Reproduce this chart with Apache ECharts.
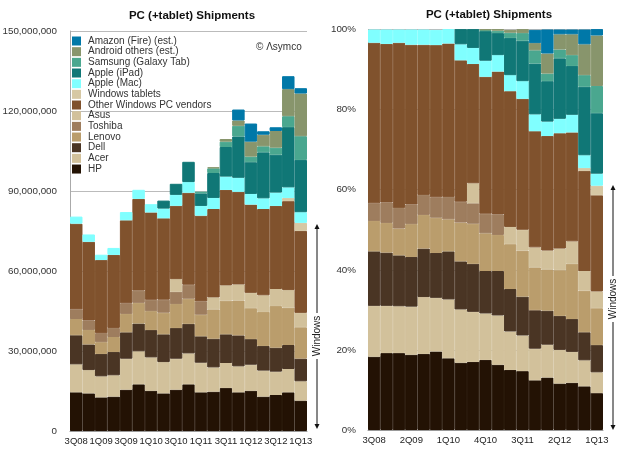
<!DOCTYPE html>
<html>
<head>
<meta charset="utf-8">
<title>PC (+tablet) Shipments</title>
<style>
	html, body { margin: 0; padding: 0; background: #fff; }
	#chart { width: 620px; height: 453px; }
</style>
<script src="https://cdn.jsdelivr.net/npm/echarts@6/dist/echarts.min.js"></script>
</head>
<body>
<div id="chart"></div>
<script>
var quarters = ['3Q08','4Q08','1Q09','2Q09','3Q09','4Q09','1Q10','2Q10','3Q10','4Q10','1Q11','2Q11','3Q11','4Q11','1Q12','2Q12','3Q12','4Q12','1Q13'];
var unitTicks = [0, 30000000, 60000000, 90000000, 120000000, 150000000];
var vendors = ['HP','Acer','Dell','Lenovo','Toshiba','Asus','Other Windows PC vendors','Windows tablets','Apple (Mac)','Apple (iPad)','Samsung (Galaxy Tab)','Android others (est.)','Amazon (Fire) (est.)'];
var vendorColors = ['#231204','#d2c19b','#4a3524','#ba9d6c','#9e7d5e','#d2c19b','#80522d','#d6c8a4','#80ffff','#107776','#4aa78f','#88956c','#0078a8'];

/* units, millions */
var unitsHP = [14.5,14.1,12.6,12.9,15.5,17.5,15.1,14.1,15.5,17.5,14.5,14.75,16.1,14.5,15.1,12.9,13.5,14.5,11.4];
var unitsAcer = [10.5,8.75,7.9,8,11.6,12.4,12.5,11.75,11.6,11.6,11.1,9.1,9.4,9.75,9.75,9.75,8.75,8.75,7.25];
var unitsDell = [10.9,9.6,8.4,8.75,9.9,10.4,10.25,10.4,11.5,11.1,9.9,10.75,10.75,11.6,9.6,9.25,9,9,8.5];
var unitsLenovo = [6.1,5.4,4.4,5.6,6.9,7.75,7.1,8.1,9,9.4,8.1,11,12.6,13.1,11.6,12.75,15.6,14,11.75];
var unitsToshiba = [3.6,3.6,3.4,3.4,4,4.6,4.25,4.9,4.6,5.25,5,0,0,0,0,0,0,0,0];
var unitsAsus = [0,0,0,0,0,0,0,0,4.75,0,0,4.5,5.75,6,5.75,6.25,6.4,6.6,5.4];
var unitsOther = [32.15,29.5,27.4,27.4,31.1,34.4,32.75,30.5,27.5,34.5,32.15,33.15,35.8,34.75,33.1,32.35,31.15,33.35,30.75];
var unitsWinTablets = [0,0,0,0,0,0,0,0,0,0,0,0,0,0,0,0,0,1.15,3];
var unitsMac = [2.65,2.75,2,2.6,3.1,3.4,3.1,3.65,4.1,4,3.65,4.15,5,5.25,4,4,5,4,4];
var unitsIPad = [0,0,0,0,0,0,0,3,4.15,7.6,4.7,9.35,11.1,15.5,11.9,17.25,14.2,22.6,19.6];
var unitsSamsung = [0,0,0,0,0,0,0,0,0,0,0.65,1.75,2,4,2.1,2.25,2.65,4.1,8.9];
var unitsAndroid = [0,0,0,0,0,0,0,0,0,0,0,0.4,1,2,5.6,4.35,6.25,10.15,16];
var unitsAmazon = [0,0,0,0,0,0,0,0,0,0,0,0,0,4.1,6.8,1.3,1.4,4.85,2];

/* share, percent */
var shareHP = [18.3,19.2,19.2,18.8,19,19.6,17.9,16.8,17,17.5,16.3,15,14.7,12.4,13.1,11.6,11.8,10.9,9.2];
var shareAcer = [12.7,11.8,11.7,12,14.2,13.4,14.7,13.3,12.5,11.6,12.3,9.6,8.9,7.9,8.2,8.4,7.7,6.5,5.2];
var shareDell = [13.6,13.3,12.7,12.4,12.1,11.2,12,12,12,10.6,11.1,10.6,9.7,9.6,8.5,8.5,8.2,7,6.8];
var shareLenovo = [7.6,7.4,6.7,8.2,8.4,8.8,8,9.7,10,9.4,9,11.2,11.5,10.7,10.3,11.4,13.8,10.4,9.2];
var shareToshiba = [4.4,5.1,5.1,4.9,5,5.1,5.6,5.2,5.1,4.9,5.1,0,0,0,0,0,0,0,0];
var shareAsus = [0,0,0,0,0,0,0,0,5,0,0,4.3,5.2,5,4.7,5.4,5.6,4.9,4.2];
var shareOther = [40.1,39.6,41.3,39.9,37.5,38,38.3,35.3,29.8,34.2,35.7,33.9,32.7,29,28.6,28.8,27.2,25,24];
var shareWinTablets = [0,0,0,0,0,0,0,0,0,0,0,0,0,0,0,0,0,0.7,2.4];
var shareMac = [3.3,3.6,3.3,3.8,3.8,3.8,3.6,4,4,4,4.1,4,4.4,4.2,3.6,3.6,4.4,3.2,3];
var shareIPad = [0,0,0,0,0,0,0,3.8,4.7,7.4,5.5,9.3,10.1,12.7,10.1,15.1,12.2,17.1,15.1];
var shareSamsung = [0,0,0,0,0,0,0,0,0,0.25,0.6,1.3,1.9,3.3,1.9,2.2,2.7,2.9,6.8];
var shareAndroid = [0,0,0,0,0,0,0,0,0,0.2,0.4,0.7,1,1.8,5,3.8,5.2,7.7,12.6];
var shareAmazon = [0,0,0,0,0,0,0,0,0,0,0,0,0,3.3,6,1.2,1.2,3.7,1.6];

var unitRows = [unitsHP,unitsAcer,unitsDell,unitsLenovo,unitsToshiba,unitsAsus,unitsOther,unitsWinTablets,unitsMac,unitsIPad,unitsSamsung,unitsAndroid,unitsAmazon];
var shareRows = [shareHP,shareAcer,shareDell,shareLenovo,shareToshiba,shareAsus,shareOther,shareWinTablets,shareMac,shareIPad,shareSamsung,shareAndroid,shareAmazon];

var FONT = '"Liberation Sans", Arial, sans-serif';
var series = [];

function addBars(rows, axisIndex, stack, scale){
	for(var i=0;i<rows.length;i++){
		series.push({
			name: vendors[i],
			type: 'bar',
			stack: stack,
			xAxisIndex: axisIndex,
			yAxisIndex: axisIndex,
			barCategoryGap: '0%',
			barGap: '0%',
			silent: true,
			// border of the same colour closes the seams between neighbouring bars
			itemStyle: { color: vendorColors[i], borderColor: vendorColors[i], borderWidth: 1 },
			data: rows[i].map(function(v){ return v ? v*scale : '-'; })
		});
	}
}
addBars(unitRows, 0, 'units', 1000000);
addBars(shareRows, 1, 'share', 1);

function xAxis(gridIndex, every){
	return {
		type: 'category',
		gridIndex: gridIndex,
		data: quarters,
		axisTick: { show: false },
		axisLine: { lineStyle: { color: '#999', width: 1 } },
		axisLabel: { interval: every, margin: 5, fontSize: 9.5, color: '#222', fontFamily: FONT, hideOverlap: false }
	};
}

function yAxis(gridIndex, max, step, fmt, margin){
	return {
		type: 'value',
		gridIndex: gridIndex,
		min: 0,
		max: max,
		interval: step,
		axisLine: { show: true, lineStyle: { color: '#aaa', width: 1 } },
		axisTick: { show: false },
		axisLabel: { margin: margin, fontSize: 9.8, color: '#333', fontFamily: FONT, formatter: fmt },
		splitLine: { lineStyle: { color: '#bbb', width: 1 } }
	};
}

/* Windows bracket: line with arrow at both ends, label sitting in a gap */
function bracket(x, top, bottom, textY){
	var col = '#111';
	return [
		{ type:'line', shape:{x1:x,y1:top+4,x2:x,y2:textY-23}, style:{stroke:col,lineWidth:1} },
		{ type:'line', shape:{x1:x,y1:textY+23,x2:x,y2:bottom-4}, style:{stroke:col,lineWidth:1} },
		{ type:'polygon', shape:{points:[[x,top],[x-2.5,top+5],[x+2.5,top+5]]}, style:{fill:col} },
		{ type:'polygon', shape:{points:[[x,bottom],[x-2.5,bottom-5],[x+2.5,bottom-5]]}, style:{fill:col} },
		{ type:'text', x:x, y:textY, rotation:Math.PI/2, style:{text:'Windows',fontSize:10,fontFamily:FONT,fill:'#222',align:'center',verticalAlign:'middle'} }
	];
}

var myChart = echarts.init(document.getElementById('chart'));
var option = {
	animation: false,
	backgroundColor: '#fff',
	title: [
		{ text:'PC (+tablet) Shipments', left:187, top:5, textAlign:'center', textStyle:{fontSize:11.5,fontWeight:'bold',color:'#111',fontFamily:FONT} },
		{ text:'PC (+tablet) Shipments', left:484, top:4, textAlign:'center', textStyle:{fontSize:11.5,fontWeight:'bold',color:'#111',fontFamily:FONT} }
	],
	legend: {
		orient: 'vertical',
		left: 72,
		top: 36,
		padding: 0,
		itemWidth: 9,
		itemHeight: 9,
		itemGap: 0.67,
		icon: 'rect',
		selectedMode: false,
		itemStyle: { borderWidth: 0 },
		data: vendors.slice().reverse(),
		textStyle: { fontSize: 10, color: '#333', fontFamily: FONT, padding: [0,0,0,2], lineHeight: 10, height: 10 }
	},
	grid: [
		{ left:70, right:313, top:31, bottom:22, outerBoundsMode:'none' },
		{ left:368, right:17, top:29.5, bottom:23, outerBoundsMode:'none' }
	],
	xAxis: [ xAxis(0, 1), xAxis(1, 2) ],
	yAxis: [
		yAxis(0, unitTicks[unitTicks.length-1], unitTicks[1], function(v){ return v.toLocaleString('en-US'); }, 13),
		yAxis(1, 100, 20, '{value}%', 12)
	],
	series: series,
	graphic: [
		{ type:'text', x:256, y:42, style:{text:'© Λsymco',fontSize:10,fontFamily:FONT,fill:'#333'} }
	].concat(bracket(317, 224, 429, 336), bracket(613, 185, 430, 299))
};
myChart.setOption(option);
</script>
</body>
</html>
